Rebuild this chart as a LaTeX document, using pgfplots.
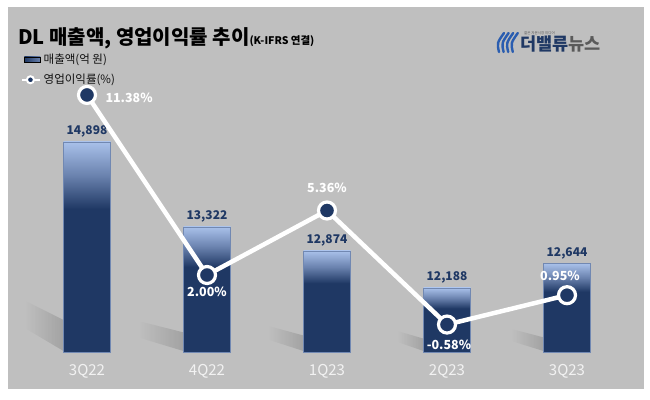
\documentclass[border=0pt]{standalone}
\usepackage{pgfplots}
\pgfplotsset{compat=1.18}
\usetikzlibrary{fadings}
\usepackage{fontspec}
\setmainfont{Noto Sans CJK KR}
\definecolor{bg}{HTML}{BFBFBF}
\definecolor{navy}{HTML}{1F3864}
\definecolor{lightnavy}{HTML}{A9C1EA}
\definecolor{midnavy}{HTML}{6A82AE}
\definecolor{baredge}{HTML}{7188B2}
\definecolor{ticktext}{HTML}{F2F2F2}
\definecolor{logogray}{HTML}{5A5A5A}
\definecolor{logoblue}{HTML}{2A5DB0}
\definecolor{legtext}{HTML}{111111}
\pgfdeclareverticalshading{barshade}{100bp}{color(0bp)=(navy); color(25bp)=(navy); color(59bp)=(navy); color(67bp)=(midnavy); color(75bp)=(lightnavy); color(100bp)=(lightnavy)}
\tikzfading[name=fadeleft, left color=transparent!100, right color=transparent!0]

\begin{document}
\begin{tikzpicture}[x=1bp,y=1bp]
\fill[white] (0,0) rectangle (650,399);
\fill[bg] (8,10) rectangle (644,392);
% soft shadows at the bar bases
\foreach \L/\H/\W in {63.5/50/38, 183.5/30/45, 303.5/25/35, 423.5/20/26, 543.5/22/32}{
  \fill[black, opacity=0.15, path fading=fadeleft] (\L,48) -- (\L,48+0.62*\H) -- (\L-\W,48+\H) -- (\L-\W,48+0.45*\H) -- cycle;
}
% title
\node[anchor=base west, inner sep=0] at (18,355) {\fontsize{20bp}{22bp}\selectfont\bfseries DL 매출액, 영업이익률 추이{\fontsize{10.5bp}{12bp}\selectfont (K-IFRS 연결)}};
% logo
\foreach \i in {0,1,2,3}{
  \draw[logoblue, line width=2.4bp, line cap=round] (499+\i*4.6,347) .. controls (497+\i*4.6,356) .. (504+\i*4.6,366);
}
\node[anchor=base west, inner sep=0, text=logogray] at (524,365) {\fontsize{3.5bp}{4bp}\selectfont 젊은 자본시장 미디어};
\node[anchor=base west, inner sep=0] at (520,349) {\fontsize{17.5bp}{18bp}\selectfont\bfseries\color{navy}더밸류\color{logogray}뉴스};

\begin{axis}[
  at={(27bp,47bp)}, anchor=south west,
  scale only axis, width=600bp, height=292bp,
  xmin=-0.5, xmax=4.5, ymin=11000, ymax=16417,
  axis line style={draw=none}, tick style={draw=none},
  xtick={0,1,2,3,4}, xticklabels={3Q22,4Q22,1Q23,2Q23,3Q23},
  xticklabel style={font=\fontsize{15bp}{16bp}\selectfont, text=ticktext, yshift=-9bp},
  ytick=\empty,
  /pgf/number format/assume math mode=true,
  /pgf/number format/1000 sep={,},
  nodes near coords,
  nodes near coords style={font=\fontsize{12bp}{13bp}\selectfont\bfseries, text=navy, yshift=1bp},
  clip=false,
  barstyle/.style={ybar, bar width=47bp, bar shift=0pt, draw=baredge, line width=0.5bp, shade, shading=barshade},
]
\addplot[barstyle] coordinates {(0,14898)};
\addplot[barstyle] coordinates {(1,13322)};
\addplot[barstyle] coordinates {(2,12874)};
\addplot[barstyle] coordinates {(3,12188)};
\addplot[barstyle] coordinates {(4,12644)};
\end{axis}

\begin{axis}[
  at={(27bp,47bp)}, anchor=south west,
  scale only axis, width=600bp, height=292bp,
  xmin=-0.5, xmax=4.5, ymin=-2.01, ymax=13.2,
  axis lines=none,
  clip=false,
  legend style={at={(rel axis cs:0,1)}, anchor=west, xshift=-6bp, yshift=-9.5bp,
    draw=none, fill=none, font=\fontsize{11.5bp}{12bp}\selectfont, text=legtext, row sep=5.5bp,
    inner sep=0pt, legend cell align=left},
  pctlabel/.style={forget plot, draw=none, mark=none, point meta=y, nodes near coords={\pgfmathprintnumber[fixed, fixed zerofill, precision=2, assume math mode=true]{\pgfplotspointmeta}\%},
    nodes near coords style={font=\fontsize{12.5bp}{13bp}\selectfont\bfseries, text=white, #1}},
]
\addlegendimage{legend image code/.code={\shade[left color=navy, right color=midnavy] (4bp,-2.5bp) rectangle (20bp,2.5bp);}}
\addlegendentry{매출액(억 원)}
\addlegendimage{legend image code/.code={
    \draw[white, line width=2.5bp] (2bp,0bp) -- (20bp,0bp);
    \draw[white, fill=navy, line width=2bp] (10bp,0bp) circle (3.5bp);}}
\addlegendentry{영업이익률(\%)}
\addplot[forget plot, white, line width=4.5bp, mark=*, mark size=8.5bp,
  mark options={fill=navy, draw=white, line width=3.2bp}]
  coordinates {(0,11.38) (1,2.00) (2,5.36) (3,-0.58) (4,0.95)};
\addplot[pctlabel={anchor=west, xshift=15bp, yshift=-3bp}] coordinates {(0,11.38)};
\addplot[pctlabel={anchor=center, yshift=-17bp}] coordinates {(1,2.00)};
\addplot[pctlabel={anchor=center, yshift=23bp}] coordinates {(2,5.36)};
\addplot[pctlabel={anchor=center, xshift=2bp, yshift=-20bp}] coordinates {(3,-0.58)};
\addplot[pctlabel={anchor=center, xshift=-7bp, yshift=19bp}] coordinates {(4,0.95)};
\end{axis}
\end{tikzpicture}
\end{document}
